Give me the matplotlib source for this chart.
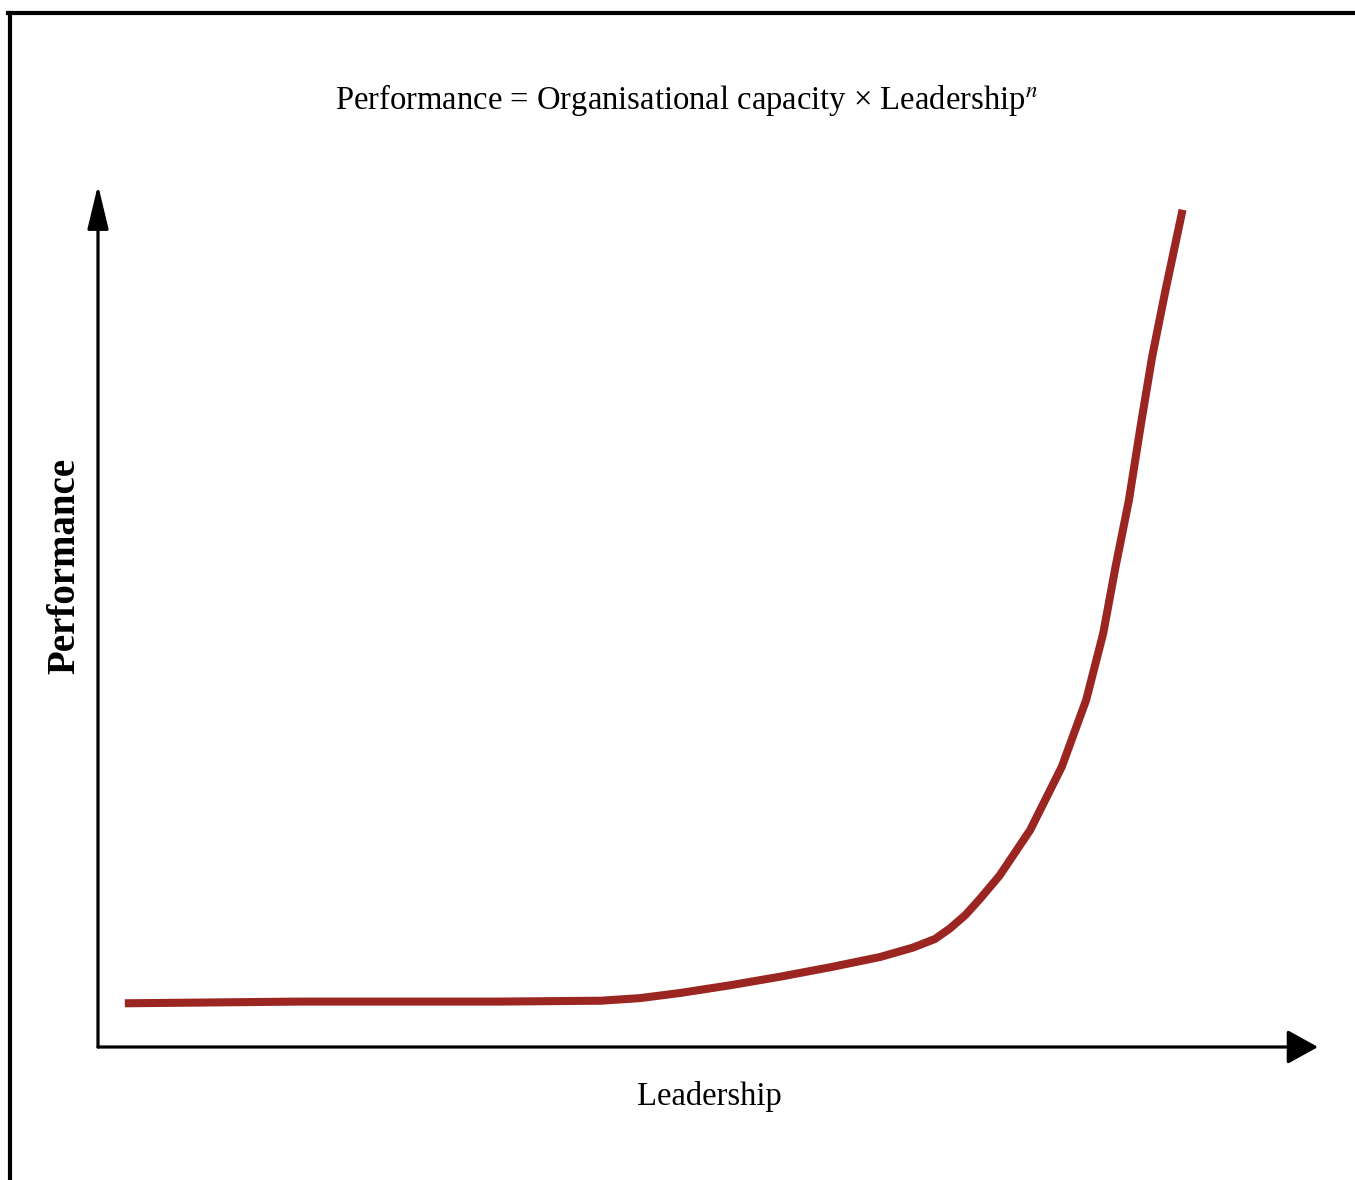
#!/usr/bin/env python3

import matplotlib
matplotlib.use("Agg")
import matplotlib.pyplot as plt
from matplotlib.lines import Line2D

# Leadership (x, % of axis) vs performance (y, % of axis)
leadership = [2.2, 16.6, 33.0, 41.2, 44.4, 47.7, 51.8, 55.9, 60.0, 64.1,
              66.8, 68.6, 69.8, 71.1, 72.3, 73.9, 76.4, 79.0, 81.0, 82.4,
              83.4, 84.5, 85.5, 86.4, 87.5, 88.9]
performance = [5.1, 5.3, 5.3, 5.4, 5.7, 6.3, 7.2, 8.2, 9.3, 10.5,
               11.6, 12.6, 13.8, 15.4, 17.3, 20.0, 25.3, 32.7, 40.5, 48.3,
               56.0, 63.8, 72.8, 80.5, 88.3, 97.7]

TITLE = "Performance = Organisational capacity \u00d7 Leadership$^{n}$"
XLABEL = "Leadership"
YLABEL = "Performance"

W, H = 1355, 1180
plt.rcParams["mathtext.fontset"] = "stix"

fig = plt.figure(figsize=(W / 100, H / 100), dpi=100)
fig.patch.set_facecolor("white")

# frame lines along the top and left edge
fig.add_artist(Line2D([8 / W, 1], [1 - 13 / H, 1 - 13 / H], color="black", lw=3))
fig.add_artist(Line2D([9.5 / W, 9.5 / W], [0, 1 - 13 / H], color="black", lw=3))

ax = fig.add_axes([98 / W, 133 / H, 1220 / W, 862 / H])
ax.set_xlim(0, 100)
ax.set_ylim(0, 862 / 857 * 100)
ax.set_xticks([])
ax.set_yticks([])
for side in ax.spines:
    ax.spines[side].set_visible(False)

# axes drawn as arrows
ax.annotate("", xy=(1, 0), xytext=(0, 0), xycoords="axes fraction",
            arrowprops=dict(arrowstyle="-|>,head_length=19,head_width=10.5",
                            mutation_scale=1, lw=2.3, color="black",
                            shrinkA=0, shrinkB=0))
ax.annotate("", xy=(0, 1), xytext=(0, 0), xycoords="axes fraction",
            arrowprops=dict(arrowstyle="-|>,head_length=27,head_width=6.5",
                            mutation_scale=1, lw=2.3, color="black",
                            shrinkA=0, shrinkB=0))

ax.plot(leadership, performance, color="#9b2520", lw=5.8,
        solid_capstyle="butt", solid_joinstyle="round")

fig.text(687 / W, 1 - 100 / H, TITLE, ha="center", va="center",
         family="Liberation Serif", fontsize=23.5)
fig.text(709 / W, 1 - 1097 / H, XLABEL, ha="center", va="center",
         family="Liberation Serif", fontsize=23.5)
fig.text(65 / W, 1 - 566 / H, YLABEL, ha="center", va="center", rotation=90,
         family="Liberation Serif", fontweight="bold", fontsize=28)

fig.savefig("out.png", dpi=100, facecolor="white")
